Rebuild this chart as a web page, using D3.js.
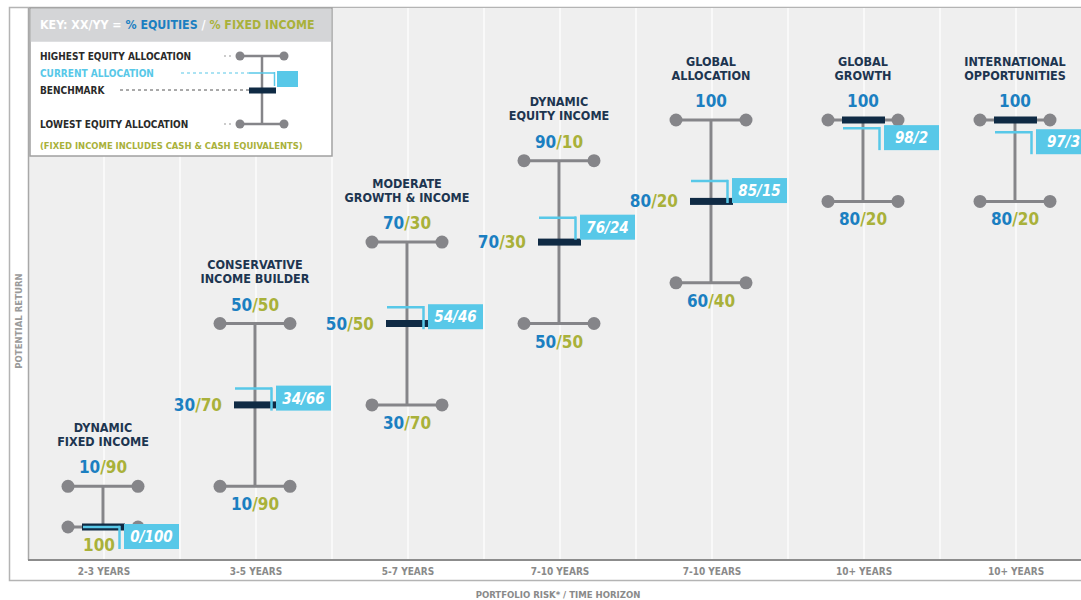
<!DOCTYPE html>
<html>
<head>
<meta charset="utf-8">
<script src="https://cdn.jsdelivr.net/npm/d3@7"></script>
<style>
  body { margin: 0; background: #fff; }
  svg text { font-family: "Liberation Sans Narrow", "DejaVu Sans Condensed", Roboto, sans-serif; font-weight: bold; }
</style>
</head>
<body>
<svg id="chart" width="1081" height="600"></svg>
<script>
// fund names (two lines each) and time horizons
const nameTop = ["DYNAMIC", "CONSERVATIVE", "MODERATE", "DYNAMIC", "GLOBAL", "GLOBAL", "INTERNATIONAL"];
const nameBottom = ["FIXED INCOME", "INCOME BUILDER", "GROWTH & INCOME", "EQUITY INCOME", "ALLOCATION", "GROWTH", "OPPORTUNITIES"];
const horizons = ["2-3 YEARS", "3-5 YEARS", "5-7 YEARS", "7-10 YEARS", "7-10 YEARS", "10+ YEARS", "10+ YEARS"];

// % equities
const highEquity = [10, 50, 70, 90, 100, 100, 100];
const lowEquity = [0, 10, 30, 50, 60, 80, 80];
const benchmark = [0, 30, 50, 70, 80, 100, 100];
const current = [0, 34, 54, 76, 85, 98, 97];

const BLUE = "#1b7fc1", OLIVE = "#a9b13a", CYAN = "#58c8e8", NAVY = "#0f2a44", GRAY = "#858589";

let svg = d3.select("#chart");

let x = d3.scaleBand()
    .domain(d3.range(horizons.length))
    .range([28, 28 + 152 * horizons.length]);
let y = d3.scaleLinear()
    .domain([0, 100])
    .range([527, 120]);

// frame + plot area
svg.append("rect").attr("x", 9.5).attr("y", 7.5).attr("width", 1100).attr("height", 573)
    .attr("fill", "#fff").attr("stroke", "#b4b4b4").attr("stroke-width", 1.5);
svg.append("rect").attr("x", 28).attr("y", 8).attr("width", 1100).attr("height", 552)
    .attr("fill", "#efefef");
svg.append("line").attr("x1", 28.5).attr("x2", 28.5).attr("y1", 8).attr("y2", 560)
    .attr("stroke", "#a8a8a8").attr("stroke-width", 1.5);

// white grid lines at band edges and centres
let gridX = [];
for (let i = 0; i < horizons.length; i++) {
    if (i > 0) gridX.push(x(i));
    gridX.push(x(i) + x.bandwidth() / 2);
}
svg.selectAll(".grid").data(gridX).enter().append("line")
    .attr("x1", d => d).attr("x2", d => d)
    .attr("y1", 8).attr("y2", 560)
    .attr("stroke", "#fff").attr("stroke-width", 1.2);

svg.append("line").attr("x1", 28).attr("x2", 1081).attr("y1", 560).attr("y2", 560)
    .attr("stroke", "#8c8c8c").attr("stroke-width", 2);

// x axis
let xAxis = svg.append("g").attr("transform", "translate(0,560)")
    .call(d3.axisBottom(x).tickSize(0).tickPadding(8).tickFormat(i => horizons[i]));
xAxis.select(".domain").remove();
xAxis.selectAll("text").attr("fill", "#8a8a8a").style("font-size", "10px")
    .style("font-family", "\"Liberation Sans Narrow\", \"DejaVu Sans Condensed\", Roboto, sans-serif");

svg.append("text").attr("x", 558).attr("y", 598).attr("text-anchor", "middle")
    .attr("fill", "#8a8a8a").style("font-size", "9.5px").text("PORTFOLIO RISK* / TIME HORIZON");
svg.append("text").attr("transform", "translate(22,321) rotate(-90)").attr("text-anchor", "middle")
    .attr("fill", "#9a9a9a").style("font-size", "9.5px").text("POTENTIAL RETURN");

// split label "XX/YY" into coloured parts
function allocParts(eq) {
    if (eq === 100) return [{ t: "100", c: BLUE }];
    if (eq === 0) return [{ t: "100", c: OLIVE }];
    return [{ t: eq, c: BLUE }, { t: "/" + (100 - eq), c: OLIVE }];
}
function allocLabel(g, eq, px, py, anchor) {
    let t = g.append("text").attr("x", px).attr("y", py).attr("text-anchor", anchor)
        .attr("dominant-baseline", "central").style("font-size", "17px");
    allocParts(eq).forEach(p => t.append("tspan").attr("fill", p.c).text(p.t));
}

let funds = d3.range(horizons.length);
let fg = svg.selectAll(".fund").data(funds).enter().append("g")
    .attr("transform", i => `translate(${x(i) + x.bandwidth() / 2 - 1},0)`);

fg.each(function (i) {
    let g = d3.select(this);
    let yH = y(highEquity[i]), yL = y(lowEquity[i]), yB = y(benchmark[i]), yC = y(current[i]);

    // names
    g.append("text").attr("y", yH - 59).attr("text-anchor", "middle").attr("dominant-baseline", "central")
        .attr("fill", "#1d3550").style("font-size", "12.5px").text(nameTop[i]);
    g.append("text").attr("y", yH - 45).attr("text-anchor", "middle").attr("dominant-baseline", "central")
        .attr("fill", "#1d3550").style("font-size", "12.5px").text(nameBottom[i]);

    // stem and caps
    g.append("line").attr("y1", yH).attr("y2", yL).attr("stroke", GRAY).attr("stroke-width", 3);
    [yH, yL].forEach(cy => {
        g.append("line").attr("x1", -35).attr("x2", 35).attr("y1", cy).attr("y2", cy)
            .attr("stroke", GRAY).attr("stroke-width", 3);
        [-35, 35].forEach(cx => g.append("circle").attr("cx", cx).attr("cy", cy).attr("r", 6.5).attr("fill", GRAY));
    });

    allocLabel(g, highEquity[i], 0, yH - 19, "middle");
    allocLabel(g, lowEquity[i], lowEquity[i] === 0 ? -4 : 0, yL + 18, "middle");
    if (benchmark[i] !== highEquity[i] && benchmark[i] !== lowEquity[i])
        allocLabel(g, benchmark[i], -33, yB, "end");

    // benchmark bar
    g.append("rect").attr("x", -21).attr("y", yB - 3.5).attr("width", 43).attr("height", 7).attr("fill", NAVY);

    // current allocation marker
    g.append("line").attr("x1", -20).attr("x2", 17).attr("y1", yC).attr("y2", yC)
        .attr("stroke", CYAN).attr("stroke-width", 2.5);
    g.append("line").attr("x1", 16.5).attr("x2", 16.5).attr("y1", yC - 1.2).attr("y2", yC + 22)
        .attr("stroke", CYAN).attr("stroke-width", 2.5);
    g.append("rect").attr("x", 21).attr("y", yC - 3).attr("width", 55).attr("height", 25).attr("fill", CYAN);
    g.append("text").attr("x", 48.5).attr("y", yC + 10).attr("text-anchor", "middle")
        .attr("dominant-baseline", "central").attr("fill", "#fff")
        .style("font-size", "15px").style("font-style", "italic")
        .text(current[i] + "/" + (100 - current[i]));
});

// key
let key = svg.append("g");
key.append("rect").attr("x", 30).attr("y", 8).attr("width", 302).attr("height", 148)
    .attr("fill", "#fff").attr("stroke", "#a0a0a0").attr("stroke-width", 1.5);
key.append("rect").attr("x", 30.75).attr("y", 8.75).attr("width", 300.5).attr("height", 33).attr("fill", "#d4d5d7");
let kt = key.append("text").attr("x", 40).attr("y", 25).attr("dominant-baseline", "central").style("font-size", "12.3px");
[["KEY: XX/YY = ", "#fff"], ["% EQUITIES", BLUE], [" / ", "#fff"], ["% FIXED INCOME", OLIVE]]
    .forEach(p => kt.append("tspan").attr("fill", p[1]).text(p[0]));

let keyRows = [["HIGHEST EQUITY ALLOCATION", 56, "#2a2a2a", 10], ["CURRENT ALLOCATION", 73, CYAN, 10],
    ["BENCHMARK", 90, "#2a2a2a", 10], ["LOWEST EQUITY ALLOCATION", 124, "#2a2a2a", 10],
    ["(FIXED INCOME INCLUDES CASH & CASH EQUIVALENTS)", 145, OLIVE, 9.4]];
keyRows.forEach(r => key.append("text").attr("x", 40).attr("y", r[1]).attr("dominant-baseline", "central")
    .attr("fill", r[2]).style("font-size", r[3] + "px").text(r[0]));

key.append("line").attr("x1", 262).attr("x2", 262).attr("y1", 56).attr("y2", 124).attr("stroke", GRAY).attr("stroke-width", 2.5);
[56, 124].forEach(cy => {
    key.append("line").attr("x1", 224).attr("x2", 234).attr("y1", cy).attr("y2", cy)
        .attr("stroke", "#9a9a9a").attr("stroke-width", 1.2).attr("stroke-dasharray", "2,3");
    key.append("line").attr("x1", 240).attr("x2", 284).attr("y1", cy).attr("y2", cy).attr("stroke", GRAY).attr("stroke-width", 2.5);
    [240, 284].forEach(cx => key.append("circle").attr("cx", cx).attr("cy", cy).attr("r", 4.5).attr("fill", GRAY));
});
key.append("line").attr("x1", 181).attr("x2", 249).attr("y1", 73).attr("y2", 73)
    .attr("stroke", CYAN).attr("stroke-width", 1.2).attr("stroke-dasharray", "3,3");
key.append("line").attr("x1", 249).attr("x2", 275).attr("y1", 73).attr("y2", 73).attr("stroke", CYAN).attr("stroke-width", 1.5);
key.append("line").attr("x1", 274.5).attr("x2", 274.5).attr("y1", 72).attr("y2", 86).attr("stroke", CYAN).attr("stroke-width", 1.5);
key.append("rect").attr("x", 277).attr("y", 71).attr("width", 21).attr("height", 16).attr("fill", CYAN);
key.append("line").attr("x1", 120).attr("x2", 249).attr("y1", 90).attr("y2", 90)
    .attr("stroke", "#555").attr("stroke-width", 1).attr("stroke-dasharray", "3,3");
key.append("rect").attr("x", 249).attr("y", 87.5).attr("width", 27).attr("height", 6).attr("fill", NAVY);
</script>
</body>
</html>
